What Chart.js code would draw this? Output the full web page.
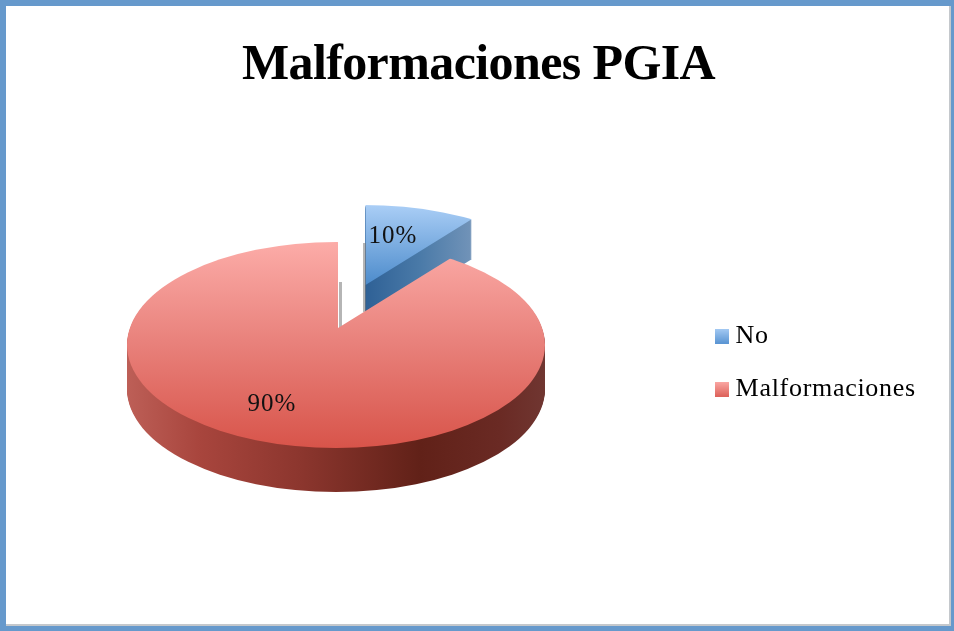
<!DOCTYPE html>
<html><head><meta charset="utf-8">
<script src="https://cdn.jsdelivr.net/npm/chart.js@4"></script>
<style>
html,body{margin:0;padding:0;background:#fff;width:954px;height:631px;overflow:hidden}
#wrap{position:relative;width:954px;height:631px}
canvas{position:absolute;left:0;top:0}
#frame{position:absolute;left:0;top:0;width:954px;height:631px;box-sizing:border-box;border-style:solid;border-color:#6699CC;border-width:6px 3px 5px 6px;box-shadow:inset -2px -2px 0 #c4c8cc;pointer-events:none}
</style></head>
<body>
<div id="wrap"><canvas id="c" width="954" height="631"></canvas><div id="frame"></div></div>
<script>
const titleText = "Malformaciones PGIA";
const categories = ["No", "Malformaciones"];
const values = [10, 90];
const fontFamily = '"Liberation Serif", serif';

const topStops = [
  [[205,'#AACEF6'],[285,'#4C8BCB']],
  [[242,'#FCACA8'],[345,'#E8807A'],[448,'#D8544A']]
];
const wallStops = [
  [[366,'#2F6196'],[420,'#4A7AA8'],[471,'#7193B8']],
  [[127,'#BD5F57'],[200,'#A8453D'],[300,'#8C362E'],[420,'#612118'],[500,'#6A2A24'],[545,'#703631']]
];
const projections = [
  {ax:365.5,ay:285,cx:363,cy:302,rx:209,ry:97,s:0.45,depth:40},
  {ax:338,ay:328,cx:336,cy:345,rx:209,ry:103,s:0.45,depth:44}
];
const drawOrder = [0,1];
const labelCenters = [[393,236],[272,404]];

function swatch(a,b){
  const cv=document.createElement('canvas');cv.width=14;cv.height=15;
  const x=cv.getContext('2d'),g=x.createLinearGradient(0,0,0,15);
  g.addColorStop(0,a);g.addColorStop(1,b);x.fillStyle=g;x.fillRect(0,0,14,15);
  return cv;
}
const swatches=[swatch('#A6CBF4','#5A95D3'),swatch('#FBA9A5','#DD625A')];

function withSpacing(box,ctx,sp){
  if(box._spaced) return;
  const d=box.draw.bind(box);
  box.draw=(...a)=>{ctx.save();ctx.letterSpacing=sp;d(...a);ctx.restore();};
  box._spaced=true;
}

const pie3d={
  id:'pie3d',
  afterLayout(chart){
    withSpacing(chart.titleBlock,chart.ctx,'-0.6px');
    withSpacing(chart.legend,chart.ctx,'0.7px');
  },
  beforeDatasetsDraw(chart){
    const ctx=chart.ctx, arcs=chart.getDatasetMeta(0).data;
    const layer=(el,p,dy,fill)=>{
      ctx.save();
      ctx.beginPath();ctx.ellipse(p.cx,p.cy+dy,p.rx,p.ry,0,0,Math.PI*2);ctx.clip();
      ctx.translate(p.ax,p.ay+dy);ctx.scale(1,p.s);ctx.translate(-el.x,-el.y);
      const saved=el.options;
      el.options={...saved,backgroundColor:fill};
      el.draw(ctx);
      el.options=saved;
      ctx.restore();
    };
    for(const i of drawOrder){
      const el=arcs[i],p=projections[i];
      const ws=wallStops[i];
      const x0=ws[0][0],x1=ws[ws.length-1][0];
      const wg=ctx.createLinearGradient(x0-p.ax+el.x,0,x1-p.ax+el.x,0);
      ws.forEach(([x,c])=>wg.addColorStop((x-x0)/(x1-x0),c));
      for(let d=p.depth;d>=1;d--) layer(el,p,d,wg);
      const ts=topStops[i];
      const y0=ts[0][0],y1=ts[ts.length-1][0];
      const toU=Y=>(Y-p.ay)/p.s+el.y;
      const tg=ctx.createLinearGradient(0,toU(y0),0,toU(y1));
      ts.forEach(([y,c])=>tg.addColorStop((y-y0)/(y1-y0),c));
      if(i===1){
        ctx.fillStyle='rgba(120,120,120,0.55)';
        ctx.fillRect(363,243,3,69);
        ctx.fillRect(339,282,3,46);
      }
      layer(el,p,0,tg);
    }
    const total=values.reduce((a,b)=>a+b,0);
    ctx.save();
    ctx.fillStyle='#111';ctx.font='25px '+fontFamily;ctx.letterSpacing='1px';
    ctx.textAlign='center';ctx.textBaseline='middle';
    values.forEach((v,i)=>ctx.fillText(Math.round(v/total*100)+'%',labelCenters[i][0],labelCenters[i][1]));
    ctx.restore();
    return false;
  }
};

new Chart(document.getElementById('c'),{
  type:'pie',
  data:{labels:categories,datasets:[{data:values,backgroundColor:['#6FA5DE','#E8807A'],borderWidth:0,radius:520}]},
  plugins:[pie3d],
  options:{
    responsive:false,animation:false,
    layout:{padding:{left:41,right:38,top:0,bottom:14}},
    plugins:{
      tooltip:{enabled:false},
      title:{display:true,text:titleText,color:'#000',font:{family:fontFamily,size:50,weight:'bold'},padding:{top:36,bottom:12}},
      legend:{
        position:'right',
        fullSize:false,
        labels:{
          usePointStyle:true,pointStyleWidth:2,boxHeight:14,padding:27,color:'#111',
          font:{family:fontFamily,size:26},
          generateLabels(){return categories.map((t,i)=>({text:t,pointStyle:swatches[i],fillStyle:'#000',strokeStyle:'transparent',lineWidth:0,datasetIndex:0,index:i}));}
        }
      }
    }
  }
});
</script>
</body></html>
